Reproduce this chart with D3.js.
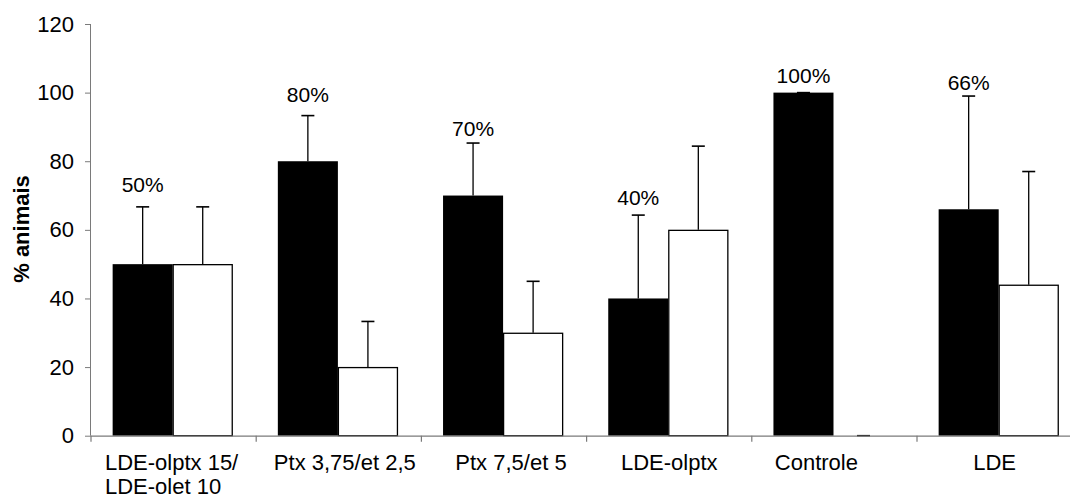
<!DOCTYPE html>
<html>
<head>
<meta charset="utf-8">
<script src="https://cdn.jsdelivr.net/npm/d3@7"></script>
<style>
  html, body { margin: 0; padding: 0; background: #fff; }
  svg { display: block; font-family: "Liberation Sans", Arial, sans-serif; }
</style>
</head>
<body>
<svg id="chart" width="1070" height="498"></svg>
<script>
// Groups (each label may wrap onto two lines)
const categories = [
  ["LDE-olptx 15/", "LDE-olet 10"],
  ["Ptx 3,75/et 2,5"],
  ["Ptx 7,5/et 5"],
  ["LDE-olptx"],
  ["Controle"],
  ["LDE"]
];
// Filled series (percentage of animals) and its upper error
const blackValues = [50, 80, 70, 40, 100, 66];
const blackErrors = [16.7, 13.3, 15.3, 24.3, 0, 33];
// Open series and its upper error
const whiteValues = [50, 20, 30, 60, 0, 44];
const whiteErrors = [16.7, 13.3, 15, 24.4, 0, 33];
// Percent labels written above the filled bars
const pctLabels = ["50%", "80%", "70%", "40%", "100%", "66%"];
const yTicks = [0, 20, 40, 60, 80, 100, 120];

// Layout tweaks: horizontal nudge of category labels, lift of percent labels (px)
const catLabelShift = [-2, 6, 7, 0, -18, -5];
const pctLabelLift = [15, 14, 7, 10, 10, 6];

const svg = d3.select("#chart");
const axisColor = "#7a7a7a";
const fontSize = 22;
const pctFontSize = 21;

const x = d3.scaleBand().domain(d3.range(categories.length)).range([91, 1082.2]).padding(0);
const y = d3.scaleLinear().domain([0, 120]).range([435.7, 24]);

const bw = x.bandwidth();
const sub = d3.scaleBand().domain(["black", "white"]).range([bw * 0.131, bw * 0.858]).padding(0);

// Y axis
const yAxis = svg.append("g").attr("transform", "translate(91,0)")
  .call(d3.axisLeft(y).tickValues(yTicks).tickSize(6).tickPadding(11));
yAxis.select(".domain").attr("stroke", axisColor).attr("d", `M-0.5,${y(120)}V${y(0)}`);
yAxis.selectAll(".tick line").attr("stroke", axisColor);
yAxis.selectAll(".tick text").attr("font-size", fontSize).attr("fill", "#000")
  .attr("font-family", "Liberation Sans, Arial, sans-serif");

// Bars
const groups = svg.append("g").selectAll("g").data(categories).join("g")
  .attr("transform", (d, i) => `translate(${x(i)},0)`);

groups.append("rect")
  .attr("x", sub("black")).attr("width", sub.bandwidth())
  .attr("y", (d, i) => y(blackValues[i]))
  .attr("height", (d, i) => y(0) - y(blackValues[i]))
  .attr("fill", "#000");

groups.append("rect")
  .attr("x", sub("white") + 0.5).attr("width", sub.bandwidth() - 1)
  .attr("y", (d, i) => y(whiteValues[i]) + 0.5)
  .attr("height", (d, i) => Math.max(0, y(0) - y(whiteValues[i]) - 0.5))
  .attr("fill", "#fff").attr("stroke", "#000").attr("stroke-width", 1.3);

// Upper error bars
function errorBar(sel, key, vals, errs) {
  const cx = sub(key) + sub.bandwidth() / 2;
  sel.append("line")
    .attr("x1", cx).attr("x2", cx)
    .attr("y1", (d, i) => y(vals[i]))
    .attr("y2", (d, i) => y(vals[i] + errs[i]))
    .attr("stroke", "#000").attr("stroke-width", 1.3);
  sel.append("line")
    .attr("x1", cx - 6.5).attr("x2", cx + 6.5)
    .attr("y1", (d, i) => y(vals[i] + errs[i]))
    .attr("y2", (d, i) => y(vals[i] + errs[i]))
    .attr("stroke", "#000").attr("stroke-width", 1.6);
}
errorBar(groups, "black", blackValues, blackErrors);
errorBar(groups, "white", whiteValues, whiteErrors);

// Percent labels over the filled bars
groups.append("text")
  .attr("x", sub("black") + sub.bandwidth() / 2)
  .attr("y", (d, i) => y(blackValues[i] + blackErrors[i]) - pctLabelLift[i])
  .attr("text-anchor", "middle")
  .attr("font-size", pctFontSize)
  .text((d, i) => pctLabels[i]);

// X axis baseline with boundary ticks
svg.append("line")
  .attr("x1", x(0)).attr("x2", x(0) + bw * categories.length)
  .attr("y1", y(0) + 0.5).attr("y2", y(0) + 0.5)
  .attr("stroke", axisColor).attr("stroke-width", 1.2);
svg.append("g").selectAll("line").data(d3.range(categories.length + 1)).join("line")
  .attr("x1", i => x(0) + i * bw).attr("x2", i => x(0) + i * bw)
  .attr("y1", y(0)).attr("y2", y(0) + 6)
  .attr("stroke", axisColor).attr("stroke-width", 1.2);

// Category labels
const lab = groups.append("text")
  .attr("font-size", fontSize)
  .attr("y", 470);
lab.each(function(lines, i) {
  const t = d3.select(this);
  const cx = bw / 2 + catLabelShift[i];
  if (lines.length === 1) {
    t.attr("x", cx).attr("text-anchor", "middle").text(lines[0]);
  } else {
    const tmp = t.append("tspan").text(lines[0]);
    const w = tmp.node().getComputedTextLength();
    tmp.remove();
    const x0 = cx - w / 2;
    lines.forEach((ln, k) => {
      t.append("tspan").attr("x", x0).attr("y", 470 + k * 24).text(ln);
    });
  }
});

// Y axis title
svg.append("text")
  .attr("transform", `translate(29,229) rotate(-90)`)
  .attr("text-anchor", "middle")
  .attr("font-size", fontSize)
  .attr("font-weight", "bold")
  .text("% animais");
</script>
</body>
</html>
